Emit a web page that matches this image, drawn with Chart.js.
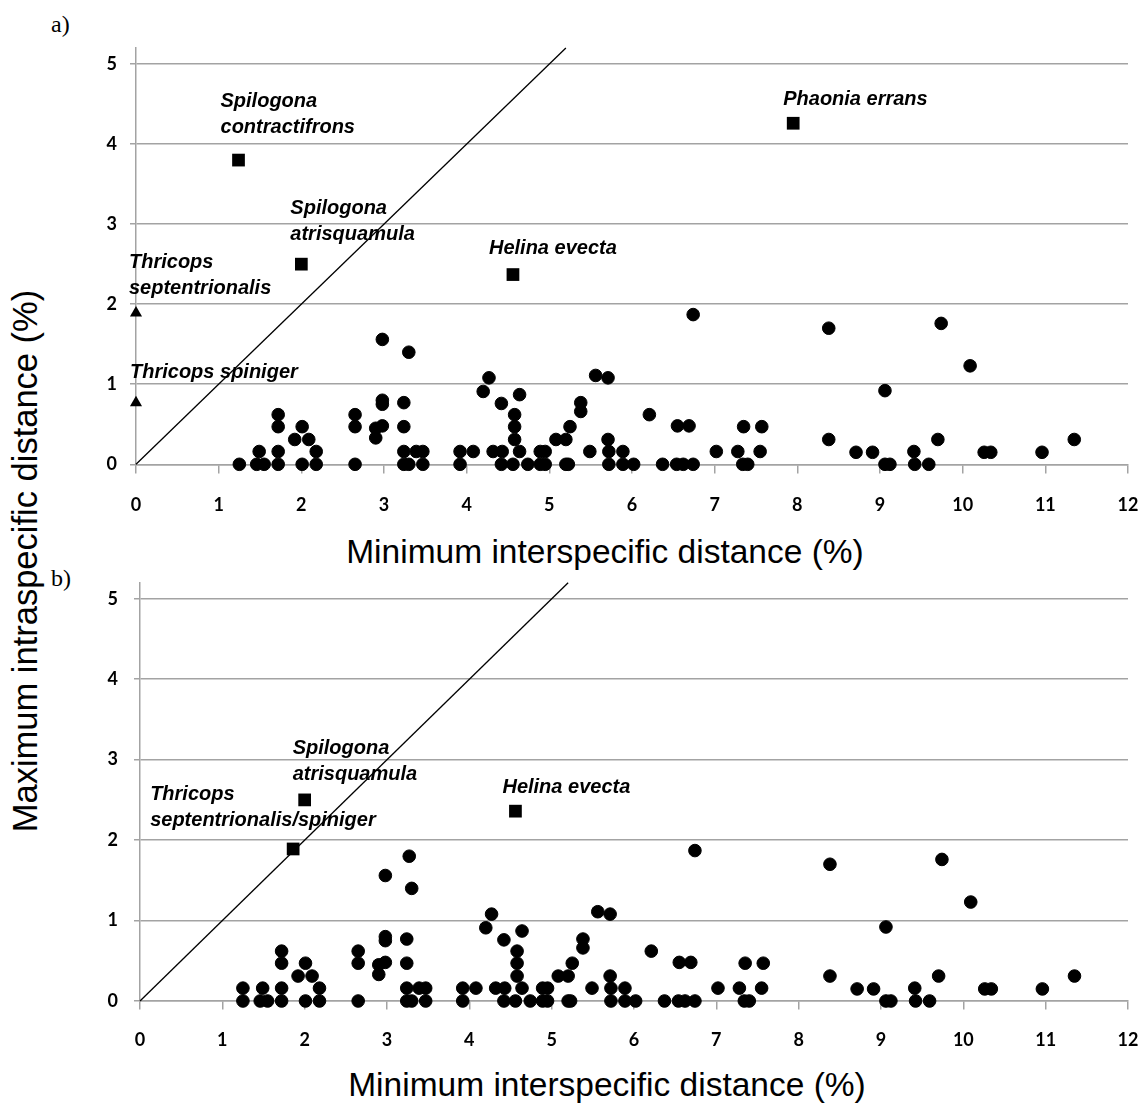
<!DOCTYPE html>
<html>
<head>
<meta charset="utf-8">
<script src="https://cdn.jsdelivr.net/npm/chart.js@4/dist/chart.umd.min.js"></script>
<style>
  body { margin: 0; background: #fff; width: 1148px; height: 1107px; position: relative; overflow: hidden; }
  canvas { position: absolute; left: 0; }
  #chartA { top: 0; }
  #chartB { top: 550px; }
  .tag { position: absolute; font-family: "Liberation Serif", serif; font-size: 24px; line-height: 24px; }
  .xtitle, #ytitle {
    position: absolute; width: 600px; height: 40px; line-height: 40px; text-align: center;
    font-family: "Liberation Sans", Arial, sans-serif; font-size: 33.5px; white-space: nowrap;
  }
  #ytitle { left: -275px; top: 541px; font-size: 34.5px; transform: rotate(-90deg); }
</style>
</head>
<body>
<div class="tag" style="left:51px;top:12px">a)</div>
<div class="tag" style="left:51px;top:566px">b)</div>
<div id="ytitle">Maximum intraspecific distance (%)</div>
<div class="xtitle" style="left:305px;top:532px">Minimum interspecific distance (%)</div>
<div class="xtitle" style="left:307px;top:1065px">Minimum interspecific distance (%)</div>
<canvas id="chartA" width="1148" height="580"></canvas>
<canvas id="chartB" width="1148" height="557"></canvas>
<script>
// species pairs, min interspecific (x) vs max intraspecific (y) distance, %
const dotsX = [1.25, 1.46, 1.55, 1.49, 1.72, 1.72, 1.72, 1.72, 1.92, 2.01, 2.01, 2.09, 2.18, 2.18,
  2.65, 2.65, 2.65, 2.90, 2.90, 2.98, 2.98, 2.98, 2.98, 3.30, 3.24, 3.24, 3.24, 3.24, 3.30, 3.39,
  3.47, 3.47, 3.92, 3.92, 4.08,
  4.20, 4.27, 4.42, 4.32, 4.43, 4.42, 4.56, 4.64, 4.58, 4.58, 4.58, 4.64, 4.74, 4.89, 4.89, 4.95,
  4.95, 5.08, 5.20, 5.20, 5.23, 5.25, 5.38, 5.38, 5.49, 5.56, 5.71, 5.71, 5.72, 5.72, 5.89, 5.89,
  6.02, 6.21, 6.37, 6.54, 6.62, 6.74, 6.55, 6.69, 6.74, 7.02, 7.28, 7.34, 7.40, 7.35, 7.55, 7.57,
  8.38, 8.38, 8.71, 8.91, 9.06, 9.06, 9.12, 9.41, 9.42, 9.59, 9.70, 9.74, 10.09, 10.26, 10.34,
  10.96, 11.35];
const dotsY = [0, 0, 0, 0.16, 0, 0.16, 0.47, 0.62, 0.31, 0.47, 0, 0.31, 0.16, 0,
  0, 0.47, 0.62, 0.33, 0.45, 0.48, 0.75, 0.80, 1.56, 1.40, 0.77, 0.47, 0.16, 0, 0, 0.16,
  0.16, 0, 0, 0.16, 0.16,
  0.91, 1.08, 0.76, 0.16, 0.16, 0, 0, 0.16, 0.31, 0.47, 0.62, 0.87, 0, 0, 0.16, 0.16,
  0, 0.31, 0.31, 0, 0, 0.47, 0.77, 0.66, 0.16, 1.11, 1.08, 0.31, 0.16, 0, 0.16, 0,
  0, 0.62, 0, 0, 0, 0, 0.48, 0.48, 1.87, 0.16, 0.16, 0, 0, 0.47, 0.16, 0.47,
  1.70, 0.31, 0.15, 0.15, 0.92, 0, 0, 0.16, 0, 0, 0.31, 1.76, 1.23, 0.15, 0.15,
  0.15, 0.31];

// extra pairs only in panel b
const extraBX = [1.25, 3.27];
const extraBY = [0.16, 1.80];

// named species, panel a
const squaresAX = [1.24, 2.0, 4.56, 7.95];
const squaresAY = [3.80, 2.50, 2.37, 4.26];
const squaresANames = [['Spilogona', 'contractifrons'], ['Spilogona', 'atrisquamula'], ['Helina evecta'], ['Phaonia errans']];
const trianglesAX = [0, 0];
const trianglesAY = [1.89, 0.77];
const trianglesANames = [['Thricops', 'septentrionalis'], ['Thricops spiniger']];

// named species, panel b
const squaresBX = [1.86, 2.0, 4.56];
const squaresBY = [1.89, 2.50, 2.36];
const squaresBNames = [['Thricops', 'septentrionalis/spiniger'], ['Spilogona', 'atrisquamula'], ['Helina evecta']];

const diagonal = [0, 5.2];

// label offsets from their marker, px
const offsA = [[-18, -53], [-11, -50], [-24, -21], [-10, -18]];
const offsATri = [[-7, -45], [-6, -25]];
const offsB = [[-143, -49], [-12, -46], [-13, -18]];

const gridColor = '#a3a3a3';
const tickFont = { family: 'Lato', weight: 'bold', size: 18 };

const toPts = (xs, ys) => xs.map((x, i) => ({ x: x, y: ys[i] }));

const notePlugin = {
  id: 'notes',
  afterDatasetsDraw(chart, args, opts) {
    const { ctx, scales: { x, y } } = chart;
    ctx.save();
    ctx.font = 'italic bold 20px "Liberation Sans", Arial, sans-serif';
    ctx.fillStyle = '#000';
    ctx.textBaseline = 'alphabetic';
    opts.items.forEach(n => {
      const px = x.getPixelForValue(n.x) + n.dx;
      const py = y.getPixelForValue(n.y) + n.dy;
      n.lines.forEach((t, i) => ctx.fillText(t, px, py + i * 26));
    });
    ctx.restore();
  }
};

function notes(xs, ys, names, offs) {
  return names.map((lines, i) => ({ x: xs[i], y: ys[i], lines: lines, dx: offs[i][0], dy: offs[i][1] }));
}

function dotSet(pts) {
  return { data: pts, pointStyle: 'circle', pointRadius: 6.3, backgroundColor: '#000', borderColor: '#000', borderWidth: 1, clip: false };
}

function makeChart(id, datasets, items, geo) {
  return new Chart(document.getElementById(id), {
    type: 'scatter',
    data: {
      datasets: [{
        type: 'line',
        data: toPts(diagonal, diagonal),
        borderColor: '#000',
        borderWidth: 1.3,
        pointRadius: 0,
        fill: false,
        clip: false
      }].concat(datasets)
    },
    options: {
      responsive: false,
      animation: false,
      events: [],
      layout: { padding: { left: 0, right: 20, top: geo.top, bottom: 0 } },
      plugins: { legend: { display: false }, tooltip: { enabled: false }, notes: { items: items } },
      scales: {
        x: {
          type: 'linear', min: 0, max: 12,
          ticks: { stepSize: 1, includeBounds: false, padding: 0, font: tickFont, color: '#000' },
          // long tick, only the first 8px drawn: keeps labels low without widening the right padding
          grid: { drawOnChartArea: false, tickLength: geo.xTick, tickBorderDash: [8, 60], color: gridColor, lineWidth: 1.5 },
          border: { color: gridColor, width: 1.5 },
          afterFit: s => { s.height = geo.xH; }
        },
        y: {
          type: 'linear', min: 0, max: 5.2,
          ticks: { stepSize: 1, includeBounds: false, padding: geo.yPad, font: tickFont, color: '#000' },
          grid: { tickLength: 6, color: gridColor, lineWidth: 1.5 },
          border: { color: gridColor, width: 1.5 },
          afterFit: s => { s.width = geo.left; }
        }
      }
    },
    plugins: [notePlugin]
  });
}

const dotsPts = toPts(dotsX, dotsY);

makeChart('chartA', [
  dotSet(dotsPts),
  { data: toPts(squaresAX, squaresAY), pointStyle: 'rect', pointRadius: 9, backgroundColor: '#000', borderWidth: 0, clip: false },
  { data: toPts(trianglesAX, trianglesAY), pointStyle: 'triangle', pointRadius: 7, backgroundColor: '#000', borderWidth: 0, clip: false }
], notes(squaresAX, squaresAY, squaresANames, offsA).concat(notes(trianglesAX, trianglesAY, trianglesANames, offsATri)),
{ top: 48, left: 136, xH: 115.7, xTick: 30, yPad: 13 });

makeChart('chartB', [
  dotSet(dotsPts.concat(toPts(extraBX, extraBY))),
  { data: toPts(squaresBX, squaresBY), pointStyle: 'rect', pointRadius: 9, backgroundColor: '#000', borderWidth: 0, clip: false }
], notes(squaresBX, squaresBY, squaresBNames, offsB),
{ top: 32.7, left: 140, xH: 106, xTick: 28.5, yPad: 16 });
</script>
</body>
</html>
